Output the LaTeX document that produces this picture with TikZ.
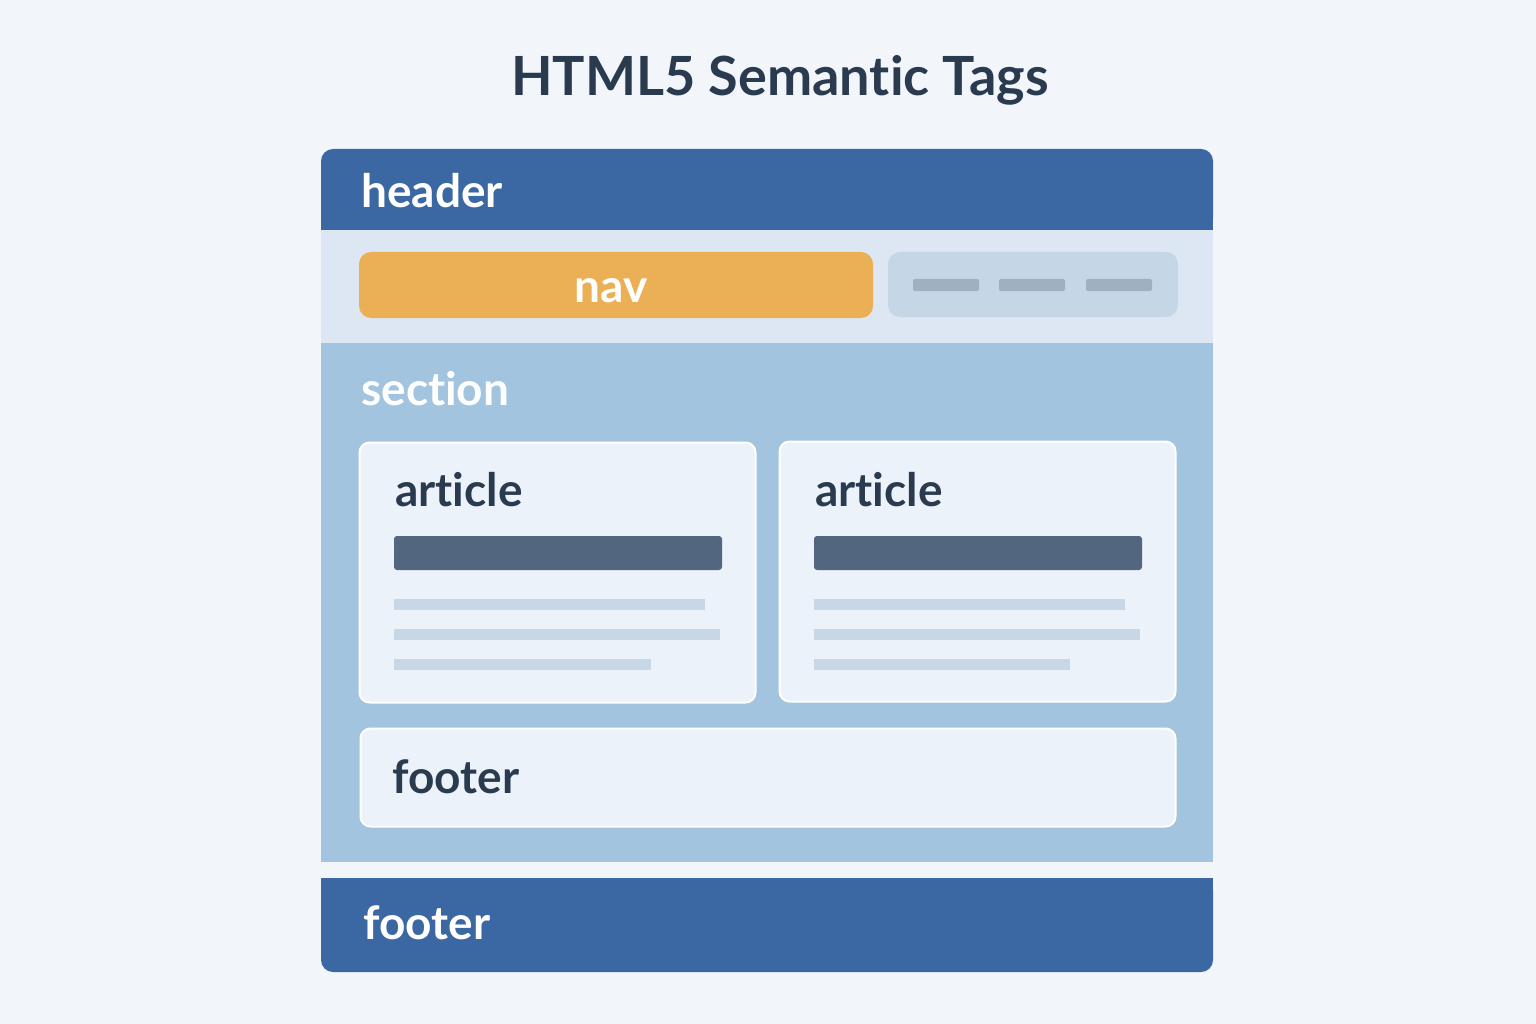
\documentclass[tikz,border=0pt]{standalone}
\usepackage{fontspec}
\setmainfont{Lato}[Ligatures=NoCommon]
\definecolor{bg}{HTML}{F2F6FA}
\definecolor{hdrblue}{HTML}{3B68A2}
\definecolor{navrow}{HTML}{DCE7F3}
\definecolor{navorange}{HTML}{EBB055}
\definecolor{graybox}{HTML}{C5D7E6}
\definecolor{dashc}{HTML}{9FB0C0}
\definecolor{sectc}{HTML}{A3C4DE}
\definecolor{artfill}{HTML}{ECF2F9}
\definecolor{barc}{HTML}{53667F}
\definecolor{linec}{HTML}{C8D7E6}
\definecolor{darktext}{HTML}{2A3B50}
\tikzset{
  blk/.style={draw=none, inner sep=0pt, outer sep=0pt, rectangle},
  card/.style={blk, fill=artfill, draw=white, line width=2pt, rounded corners=10pt},
  txtline/.style={blk, fill=linec, minimum height=11pt},
  lbl/.style={inner sep=0pt, anchor=base west, font=\fontsize{46}{50}\selectfont\bfseries},
  wlbl/.style={lbl, text=white},
  dlbl/.style={lbl, text=darktext},
}
\begin{document}
\begin{tikzpicture}[x=1pt,y=-1pt]
\fill[bg] (0,0) rectangle (1536,1024);
\useasboundingbox (0,0) rectangle (1536,1024);
% header
\node[blk, fill=hdrblue, rounded corners=12pt, minimum width=892pt, minimum height=81pt] (hdr) at (767,189.5) {};
\node[blk, fill=hdrblue, minimum width=892pt, minimum height=40pt] (hdrlow) at (767,210) {};
\node[wlbl] (hdrtxt) at (361,208) {header};
% nav row
\node[blk, fill=navrow, minimum width=892pt, minimum height=113pt] (navrow) at (767,286.5) {};
\node[blk, fill=navorange, rounded corners=12pt, minimum width=514pt, minimum height=66pt] (nav) at (616,285) {};
\node[inner sep=0pt, anchor=base, text=white, font=\fontsize{46}{50}\selectfont\bfseries] (navtxt) at (611,302) {nav};
\node[blk, fill=graybox, rounded corners=12pt, minimum width=290pt, minimum height=65pt] (menu) at (1033,284.5) {};
\node[blk, fill=dashc, rounded corners=2pt, minimum width=66pt, minimum height=12pt] (d1) at (946,285) {};
\node[blk, fill=dashc, rounded corners=2pt, minimum width=66pt, minimum height=12pt] (d2) at (1032,285) {};
\node[blk, fill=dashc, rounded corners=2pt, minimum width=66pt, minimum height=12pt] (d3) at (1119,285) {};
% section
\node[blk, fill=sectc, minimum width=892pt, minimum height=519pt] (sect) at (767,602.5) {};
\node[wlbl] (secttxt) at (361,405) {section};
% article 1
\node[card, minimum width=396pt, minimum height=260pt] (art1) at (557.5,572.5) {};
\node[dlbl] (art1txt) at (395,506) {article};
\node[blk, fill=barc, rounded corners=3pt, minimum width=328pt, minimum height=34pt] (bar1) at (558,553) {};
\node[txtline, minimum width=311pt] (l11) at (549.5,604) {};
\node[txtline, minimum width=326pt] (l12) at (557,634) {};
\node[txtline, minimum width=257pt] (l13) at (522.5,664) {};
% article 2
\node[card, minimum width=396pt, minimum height=260pt] (art2) at (977.5,571.5) {};
\node[dlbl] (art2txt) at (815,506) {article};
\node[blk, fill=barc, rounded corners=3pt, minimum width=328pt, minimum height=34pt] (bar2) at (978,553) {};
\node[txtline, minimum width=311pt] (l21) at (969.5,604) {};
\node[txtline, minimum width=326pt] (l22) at (977,634) {};
\node[txtline, minimum width=256pt] (l23) at (942,664) {};
% inner footer
\node[card, minimum width=815pt, minimum height=98pt] (ifoot) at (768,777.5) {};
\node[dlbl] (ifoottxt) at (392,793) {footer};
% bottom footer
\node[blk, fill=hdrblue, rounded corners=12pt, minimum width=892pt, minimum height=94pt] (foot) at (767,925) {};
\node[blk, fill=hdrblue, minimum width=892pt, minimum height=47pt] (foottop) at (767,901.5) {};
\node[wlbl] (foottxt) at (363,939) {footer};
% title
\node[inner sep=0pt, anchor=base, text=darktext, font=\fontsize{54}{60}\selectfont\bfseries] (title) at (780,96) {HTML5 Semantic Tags};
\end{tikzpicture}
\end{document}
